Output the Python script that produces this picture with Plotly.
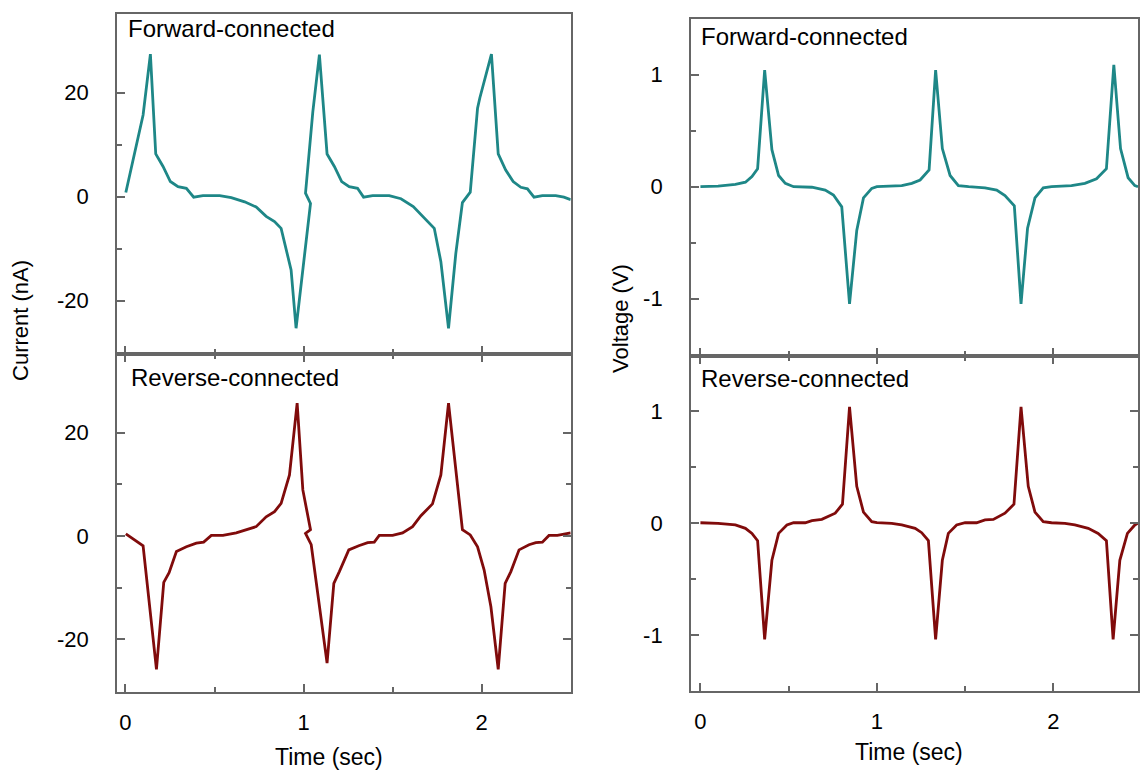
import plotly.graph_objects as go

# ---------------- data ----------------
# Current, forward-connected (nA)
t_cur_fwd = [0.002, 0.099, 0.140, 0.170, 0.211, 0.252, 0.295, 0.342, 0.383, 0.435,
             0.529, 0.594, 0.669, 0.734, 0.790, 0.837, 0.874, 0.930, 0.958, 1.039,
             1.011, 1.052, 1.089, 1.132, 1.173, 1.214, 1.256, 1.303, 1.337, 1.388,
             1.481, 1.547, 1.616, 1.668, 1.715, 1.734, 1.771, 1.814, 1.855, 1.892,
             1.936, 1.977, 1.990, 2.055, 2.093, 2.135, 2.177, 2.220, 2.257, 2.294,
             2.341, 2.416, 2.462, 2.500]
i_cur_fwd = [0.8, 15.7, 27.4, 8.2, 5.8, 2.9, 1.9, 1.6, -0.1, 0.2,
             0.2, -0.2, -1.0, -2.0, -3.8, -4.8, -6.1, -14.1, -25.3, -1.3,
             0.65, 16.3, 27.3, 8.2, 5.8, 2.9, 1.9, 1.6, -0.1, 0.2,
             0.2, -0.4, -1.9, -3.8, -5.4, -6.1, -12.5, -25.3, -10.9, -1.15,
             0.85, 17.0, 19.0, 27.4, 8.2, 5.1, 2.9, 1.8, 1.5, -0.1,
             0.2, 0.2, -0.1, -0.6]

# Current, reverse-connected (nA)
t_cur_rev = [0.002, 0.052, 0.099, 0.174, 0.215, 0.245, 0.286, 0.342, 0.398, 0.439,
             0.482, 0.547, 0.622, 0.734, 0.790, 0.837, 0.874, 0.921, 0.964, 0.996,
             1.039, 1.011, 1.043, 1.132, 1.170, 1.201, 1.254, 1.310, 1.360, 1.397,
             1.425, 1.500, 1.556, 1.612, 1.659, 1.724, 1.771, 1.814, 1.892, 1.936,
             1.977, 2.014, 2.052, 2.093, 2.132, 2.164, 2.210, 2.266, 2.304, 2.341,
             2.378, 2.425, 2.500]
i_cur_rev = [0.4, -0.8, -1.9, -25.8, -9.0, -7.1, -3.0, -2.1, -1.4, -1.2,
             0.1, 0.1, 0.6, 1.8, 3.7, 4.7, 6.3, 11.8, 25.7, 8.9,
             1.2, 0.5, -1.7, -24.6, -9.2, -6.9, -2.7, -1.9, -1.3, -1.2,
             0.1, 0.1, 0.6, 1.8, 3.9, 6.2, 11.8, 25.7, 1.2, 0.2,
             -2.1, -6.6, -13.7, -25.8, -9.2, -6.9, -2.7, -1.7, -1.3, -1.2,
             0.1, 0.1, 0.6]

# Voltage, forward-connected (V)
t_vol_fwd = [0.0, 0.100, 0.198, 0.255, 0.292, 0.324, 0.364, 0.405, 0.443, 0.481, 0.528,
             0.632, 0.707, 0.754, 0.801, 0.845, 0.886, 0.924, 0.971, 1.000, 1.141,
             1.198, 1.245, 1.296, 1.333, 1.371, 1.415, 1.462, 1.520, 1.613, 1.679,
             1.726, 1.779, 1.817, 1.854, 1.896, 1.943, 1.990, 2.103, 2.179, 2.245,
             2.301, 2.343, 2.381, 2.424, 2.462, 2.480]
v_vol_fwd = [0.0, 0.005, 0.02, 0.04, 0.09, 0.16, 1.04, 0.33, 0.10, 0.03, 0.0,
             -0.005, -0.03, -0.074, -0.18, -1.047, -0.39, -0.10, -0.015, 0.0, 0.01,
             0.03, 0.06, 0.15, 1.04, 0.34, 0.10, 0.01, 0.0, -0.01, -0.03,
             -0.08, -0.17, -1.047, -0.37, -0.10, -0.01, 0.0, 0.01, 0.03, 0.07,
             0.16, 1.087, 0.34, 0.08, 0.01, 0.0]

# Voltage, reverse-connected (V)
t_vol_rev = [0.0, 0.100, 0.198, 0.255, 0.292, 0.324, 0.364, 0.405, 0.443, 0.490, 0.528,
             0.594, 0.632, 0.688, 0.764, 0.805, 0.845, 0.886, 0.924, 0.971, 1.000,
             1.084, 1.141, 1.217, 1.254, 1.292, 1.333, 1.371, 1.405, 1.452, 1.500,
             1.565, 1.613, 1.660, 1.726, 1.777, 1.817, 1.858, 1.896, 1.943, 1.990,
             2.066, 2.122, 2.198, 2.254, 2.301, 2.339, 2.377, 2.420, 2.462, 2.480]
v_vol_rev = [0.005, 0.0, -0.015, -0.045, -0.09, -0.155, -1.036, -0.33, -0.09, -0.015, 0.005,
             0.005, 0.023, 0.035, 0.09, 0.17, 1.04, 0.33, 0.10, 0.015, 0.005,
             0.0, -0.015, -0.045, -0.084, -0.155, -1.036, -0.33, -0.09, -0.015, 0.005,
             0.005, 0.03, 0.035, 0.09, 0.17, 1.04, 0.33, 0.10, 0.015, 0.005,
             0.0, -0.015, -0.045, -0.09, -0.155, -1.036, -0.33, -0.09, -0.015, 0.0]

x_major = [0, 1, 2]
x_major_text = ["0", "1", "2"]
cur_major = [-20, 0, 20]
cur_major_text = ["-20", "0", "20"]
vol_major = [-1, 0, 1]
vol_major_text = ["-1", "0", "1"]

panel_fwd = "Forward-connected"
panel_rev = "Reverse-connected"
xlabel = "Time (sec)"
ylabel_cur = "Current (nA)"
ylabel_vol = "Voltage (V)"

TEAL = "#1e8787"
DARKRED = "#800b0b"
FRAME = "#666666"
FONT = "Liberation Sans, Arial, Helvetica, sans-serif"

W, H = 1140, 771


def px_x(p):
    return p / W


def px_y(p):
    return 1 - p / H


fig = go.Figure()
fig.add_trace(go.Scatter(x=t_cur_fwd, y=i_cur_fwd, mode="lines",
                         line=dict(color=TEAL, width=2.8), xaxis="x", yaxis="y"))
fig.add_trace(go.Scatter(x=t_cur_rev, y=i_cur_rev, mode="lines",
                         line=dict(color=DARKRED, width=2.8), xaxis="x2", yaxis="y2"))
fig.add_trace(go.Scatter(x=t_vol_fwd, y=v_vol_fwd, mode="lines",
                         line=dict(color=TEAL, width=2.8), xaxis="x3", yaxis="y3"))
fig.add_trace(go.Scatter(x=t_vol_rev, y=v_vol_rev, mode="lines",
                         line=dict(color=DARKRED, width=2.8), xaxis="x4", yaxis="y4"))

base = dict(showline=True, linecolor=FRAME, linewidth=2, showgrid=False,
            zeroline=False, ticks="inside", tickcolor=FRAME, tickwidth=1.5,
            ticklen=8, tickfont=dict(family=FONT, size=22, color="black"),
            fixedrange=True)


def xaxis(domain, rng, anchor, bottom):
    d = dict(base)
    d.update(domain=domain, range=rng, anchor=anchor,
             tickmode="array", tickvals=x_major, ticktext=x_major_text,
             minor=dict(tickmode="array", tickvals=[0.5, 1.5], ticks="inside",
                        ticklen=5, tickcolor=FRAME, tickwidth=1.5),
             showticklabels=bottom, mirror=("ticks" if bottom else True))
    if bottom:
        d.update(ticklabelstandoff=10)
    return d


def yaxis(domain, rng, anchor, vals, text, minor_vals, mirror):
    d = dict(base)
    d.update(domain=domain, range=rng, anchor=anchor,
             tickmode="array", tickvals=vals, ticktext=text,
             minor=dict(tickmode="array", tickvals=minor_vals, ticks="inside",
                        ticklen=5, tickcolor=FRAME, tickwidth=1.5),
             mirror=mirror, ticklabelstandoff=22)
    return d


L_dom = [px_x(117.3), px_x(571.7)]
R_dom = [px_x(692.3), 1.0]
LT = [px_y(354), px_y(14)]
LB = [px_y(691.5), px_y(354)]
RT = [px_y(355.7), px_y(19)]
RB = [px_y(691), px_y(355.7)]

fig.update_layout(
    width=W, height=H,
    margin=dict(l=0, r=0, t=0, b=0),
    paper_bgcolor="white", plot_bgcolor="white",
    showlegend=False,
    xaxis=xaxis(L_dom, [-0.047, 2.5], "y", False),
    xaxis2=xaxis(L_dom, [-0.047, 2.5], "y2", True),
    xaxis3=xaxis(R_dom, [-0.053, 2.48], "y3", False),
    xaxis4=xaxis(R_dom, [-0.053, 2.48], "y4", True),
    yaxis=yaxis(LT, [-30.25, 35.1], "x", cur_major, cur_major_text, [-10, 10], True),
    yaxis2=yaxis(LB, [-30.1, 35.2], "x2", cur_major, cur_major_text, [-10, 10], "ticks"),
    yaxis3=yaxis(RT, [-1.509, 1.497], "x3", vol_major, vol_major_text, [-0.5, 0.5], True),
    yaxis4=yaxis(RB, [-1.497, 1.496], "x4", vol_major, vol_major_text, [-0.5, 0.5], "ticks"),
)

ann_font = dict(family=FONT, size=24, color="black")
lab_font = dict(family=FONT, size=23, color="black")
annotations = [
    dict(text=panel_fwd, x=px_x(126), y=px_y(29), xanchor="left", yanchor="middle", font=ann_font),
    dict(text=panel_rev, x=px_x(129), y=px_y(377), xanchor="left", yanchor="middle", font=ann_font),
    dict(text=panel_fwd, x=px_x(700), y=px_y(36), xanchor="left", yanchor="middle", font=ann_font),
    dict(text=panel_rev, x=px_x(700), y=px_y(378), xanchor="left", yanchor="middle", font=ann_font),
    dict(text=xlabel, x=px_x(330), y=px_y(757), xanchor="center", yanchor="middle", font=lab_font),
    dict(text=xlabel, x=px_x(911), y=px_y(752), xanchor="center", yanchor="middle", font=lab_font),
    dict(text=ylabel_cur, x=px_x(20), y=px_y(320), xanchor="center", yanchor="middle",
         textangle=-90, font=dict(family=FONT, size=22, color="black")),
    dict(text=ylabel_vol, x=px_x(621), y=px_y(318), xanchor="center", yanchor="middle",
         textangle=-90, font=dict(family=FONT, size=22, color="black")),
]
for a in annotations:
    a.update(xref="paper", yref="paper", showarrow=False)
fig.update_layout(annotations=annotations)

fig.write_html("out.html", config={"displayModeBar": False})
